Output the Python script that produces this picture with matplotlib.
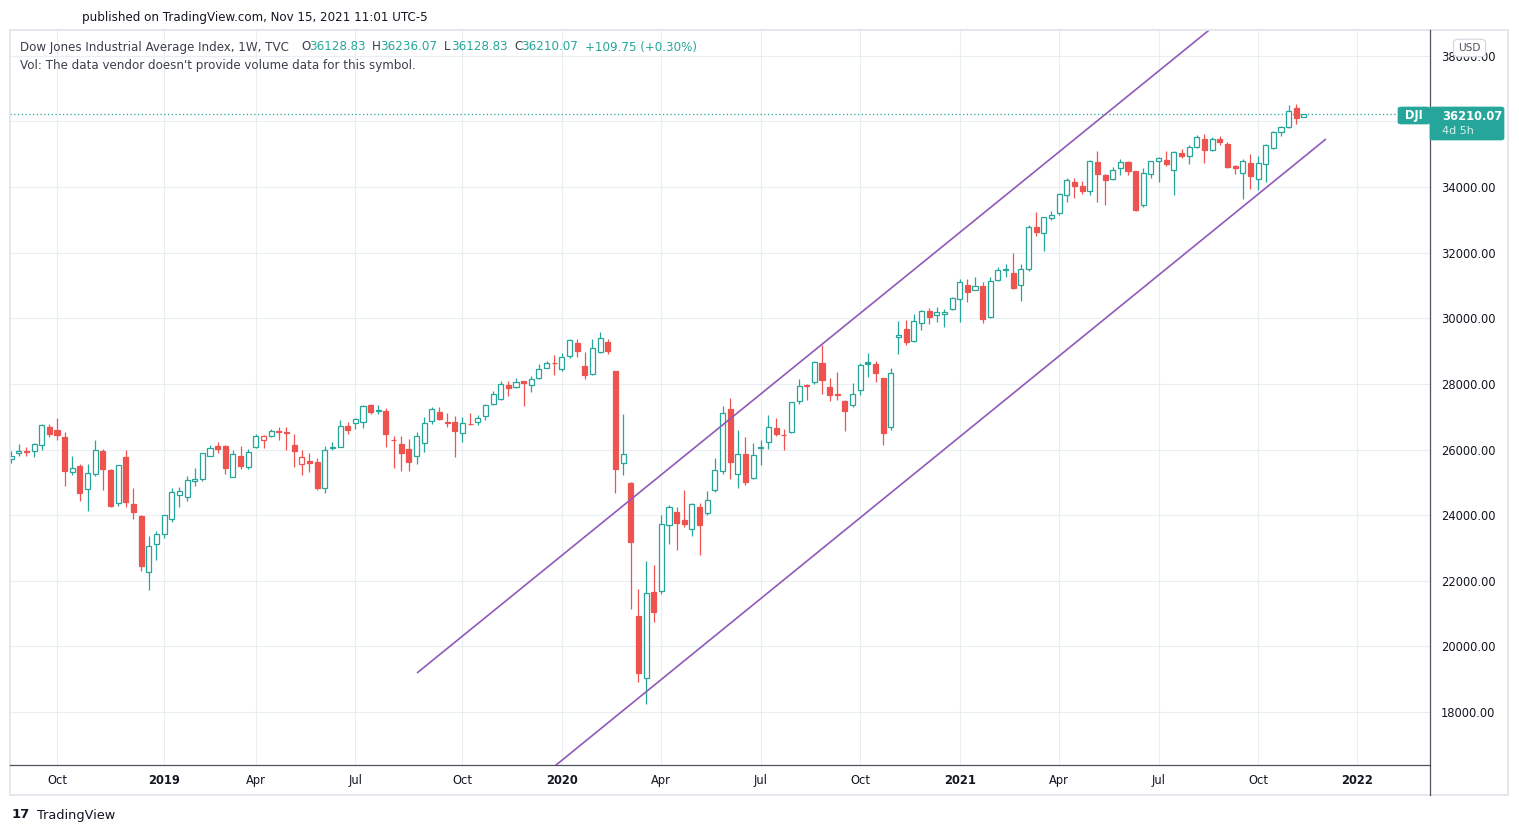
import numpy as np
import pandas as pd
import matplotlib
matplotlib.use("Agg")
import matplotlib.pyplot as plt
from matplotlib.patches import Rectangle, FancyBboxPatch
from matplotlib.lines import Line2D

# ---------------- data (weekly DJI, bars start Monday 2018-08-20) ----------------
first_week = "2018-08-20"
opens = [25700, 25880, 25950, 25960, 26130, 26690, 26590, 26390, 25310, 25500,
         24790, 25245, 25958, 25378, 24360, 25775, 24340, 23976, 22280, 23130,
         23436, 23875, 24600, 24560, 25030, 25110, 25815, 26110, 26110, 25170,
         25800, 25460, 26080, 26290, 26410, 26560, 26540, 26140, 25550, 25650,
         25620, 24820, 26050, 26090, 26720, 26810, 26840, 27360, 27170, 27180,
         26300, 26170, 26020, 25800, 26190, 26860, 27140, 26835, 26835, 26500,
         26780, 26840, 27020, 27380, 27540, 27960, 27900, 28080, 27960, 28170,
         28480, 28650, 28450, 28840, 29240, 28540, 28300, 28970, 29270, 28400,
         25580, 24980, 20930, 19040, 21650, 21690, 23690, 24090, 23850, 23570,
         24240, 24050, 24760, 25340, 27240, 25240, 25850, 25120, 26040, 26220,
         26650, 26440, 26530, 27470, 27970, 28050, 28630, 27900, 27690, 27480,
         27350, 27800, 28670, 28610, 28170, 26680, 29420, 29680, 29310, 29850,
         30230, 30090, 30130, 30280, 30600, 31020, 30860, 30990, 30030, 31160,
         31460, 31385, 31020, 31490, 32780, 32590, 33050, 33210, 33750, 34160,
         34040, 33880, 34770, 34370, 34240, 34590, 34770, 34490, 33460, 34400,
         34800, 34830, 34520, 35040, 34950, 35220, 35470, 35130, 35470, 35320,
         34650, 34430, 34740, 34240, 34700, 35180, 35680, 35830, 36420, 36128.83]
highs = [25950, 26170, 26080, 26210, 26770, 26770, 26951, 26530, 25800, 25560,
         25560, 26280, 26020, 25400, 25540, 25980, 24830, 24000, 23370, 23520,
         24000, 24820, 24870, 25180, 25440, 25900, 26150, 26230, 26150, 26000,
         26110, 26010, 26470, 26430, 26620, 26700, 26700, 26480, 25970, 25900,
         25740, 26110, 26230, 26907, 26850, 26970, 27360, 27400, 27360, 27280,
         26420, 26420, 26320, 26520, 26980, 27300, 27290, 27100, 27020, 27000,
         27100, 27050, 27400, 27780, 28090, 28090, 28170, 28100, 28230, 28600,
         28700, 28870, 28950, 29370, 29370, 28960, 29370, 29570, 29370, 28400,
         27080, 25000, 21760, 22600, 22480, 24010, 24300, 24240, 24770, 24370,
         24370, 24750, 25740, 27330, 27580, 26600, 26370, 26200, 26290, 27050,
         26970, 26620, 27460, 28140, 28000, 28710, 29200, 28170, 28360, 27500,
         28020, 28650, 28950, 28690, 28180, 28480, 29920, 29950, 30120, 30240,
         30320, 30330, 30280, 30660, 31190, 31190, 31270, 31110, 31250, 31550,
         31650, 32000, 31650, 32850, 33230, 33100, 33260, 33830, 34260, 34260,
         34170, 34830, 35090, 34400, 34620, 34850, 34800, 34500, 34580, 34800,
         34900, 35100, 35090, 35170, 35290, 35600, 35630, 35510, 35540, 35370,
         34680, 34860, 35000, 34940, 35300, 35720, 35860, 36490, 36540, 36236.07]
lows = [25600, 25790, 25800, 25760, 26000, 26370, 26290, 24899, 25226, 24440,
        24140, 25200, 24770, 24240, 24280, 24260, 23890, 22300, 21720, 22630,
        23315, 23780, 24260, 24440, 24890, 25030, 25800, 25880, 25240, 25170,
        25420, 25400, 26050, 26060, 26370, 26300, 25990, 25480, 25230, 25320,
        24770, 24680, 25980, 26070, 26480, 26620, 26650, 27070, 27070, 26090,
        25450, 25360, 25330, 25560, 25930, 26770, 26900, 26680, 25760, 26240,
        26740, 26740, 26900, 27350, 27500, 27620, 27880, 27340, 27760, 28150,
        28470, 28270, 28400, 28800, 28830, 28150, 28280, 28940, 28900, 24680,
        25220, 21150, 18920, 18244, 20750, 21600, 23110, 22940, 23650, 23370,
        22790, 24000, 24700, 25250, 25100, 24840, 24920, 25100, 25540, 26010,
        26400, 26000, 26500, 27400, 27500, 28000, 27680, 27470, 27500, 26550,
        27300, 27650, 28220, 28050, 26140, 26600, 28900, 29200, 29280, 29630,
        29810, 29890, 29720, 30250, 29880, 30500, 30850, 29860, 30000, 31150,
        31260, 30880, 30540, 31450, 32500, 32060, 32980, 33150, 33550, 33650,
        33800, 33750, 33550, 33450, 34200, 34380, 34380, 33270, 33400, 34270,
        34160, 34650, 33750, 34870, 34690, 35200, 34720, 35100, 35280, 34570,
        34410, 33640, 33950, 33900, 34150, 35150, 35560, 35790, 35930, 36128.83]
closes = [25790, 25965, 25916, 26154, 26743, 26458, 26447, 25340, 25444, 24688,
          25270, 25989, 25413, 24286, 25538, 24389, 24100, 22445, 23062, 23433,
          23996, 24706, 24737, 25064, 25106, 25883, 26031, 26026, 25450, 25848,
          25502, 25929, 26425, 26412, 26559, 26543, 26505, 25942, 25764, 25585,
          24815, 25984, 26090, 26719, 26600, 26922, 27332, 27154, 27192, 26485,
          26287, 25886, 25628, 26403, 26797, 27220, 26935, 26820, 26573, 26817,
          26770, 26958, 27347, 27681, 28005, 27876, 28051, 28015, 28135, 28455,
          28645, 28634, 28823, 29348, 28990, 28256, 29102, 29398, 28992, 25409,
          25865, 23186, 19174, 21637, 21053, 23719, 24242, 23775, 23724, 24331,
          23685, 24465, 25383, 27111, 25606, 25871, 25016, 25827, 26075, 26672,
          26470, 26428, 27433, 27931, 27930, 28654, 28133, 27666, 27657, 27174,
          27683, 28587, 28606, 28336, 26502, 28323, 29480, 29263, 29910, 30218,
          30046, 30179, 30200, 30606, 31098, 30814, 30997, 29983, 31148, 31458,
          31494, 30932, 31496, 32779, 32628, 33073, 33153, 33801, 34200, 34043,
          33875, 34778, 34382, 34208, 34529, 34756, 34480, 33290, 34433, 34786,
          34870, 34688, 35061, 34935, 35208, 35515, 35120, 35455, 35369, 34607,
          34584, 34798, 34326, 34746, 35295, 35677, 35820, 36328, 36100.32, 36210.07]

price_ticks = [18000, 20000, 22000, 24000, 26000, 28000, 30000, 32000, 34000, 36000, 38000]

# channel drawing anchors (bar index, price)
upper_x = [53.06, 160.5]
upper_y = [19189, 39520]
lower_x = [69.0, 171.88]
lower_y = [15960, 35463]

UP = "#26a69a"
DOWN = "#ef5350"
TXT = "#131722"
GRID = "#e9eef3"
CHAN = "#9158b8"

W, H = 1519, 835
fig = plt.figure(figsize=(W / 100, H / 100), dpi=100)
fig.patch.set_facecolor("white")

def fx(x):
    return x / W

def fy(y):
    return 1 - y / H

# plot area: x 10..1430, y 30..765
ax = fig.add_axes([fx(10), fy(765), fx(1430) - fx(10), fy(30) - fy(765)])
ax.set_facecolor("white")

n = len(closes)
bw = 0.66
for i in range(n):
    o, h, l, c = opens[i], highs[i], lows[i], closes[i]
    prev = closes[i - 1] if i > 0 else o
    col = UP if c >= prev else DOWN
    hollow = c >= o
    ax.vlines(i, l, h, color=col, lw=0.9, zorder=3)
    bottom = min(o, c)
    height = max(abs(c - o), 8)
    ax.add_patch(Rectangle((i - bw / 2, bottom), bw, height,
                           facecolor="white" if hollow else col,
                           edgecolor=col, lw=0.9, zorder=4))

# channel lines
ax.plot(upper_x, upper_y, color=CHAN, lw=1.2, zorder=5, solid_capstyle="butt")
ax.plot(lower_x, lower_y, color=CHAN, lw=1.2, zorder=5, solid_capstyle="butt")

# last price dotted line
ax.axhline(closes[-1], color=UP, lw=0.9, linestyle=(0, (1, 2)), zorder=2)

# x ticks: first bar of Jan/Apr/Jul/Oct
dates = pd.date_range(first_week, periods=n + 16, freq="W-MON")
xt, xl = [], []
for i in range(1, len(dates)):
    d, p = dates[i], dates[i - 1]
    if d.month != p.month and d.month in (1, 4, 7, 10):
        xt.append(i)
        xl.append(str(d.year) if d.month == 1 else d.strftime("%b"))
ax.set_xticks(xt)
ax.set_xticklabels(xl)
for lab in ax.get_xticklabels():
    lab.set_fontsize(8.3)
    lab.set_color(TXT)
    if lab.get_text().isdigit():
        lab.set_fontweight("bold")
ax.tick_params(axis="x", length=0, pad=6.5)

ax.yaxis.tick_right()
ax.set_yticks(price_ticks)
# 36000 label is hidden behind the last-price label in the reference
ax.set_yticklabels(["" if v == 36000 else f"{v:.2f}" for v in price_ticks])
ax.tick_params(axis="y", length=0, pad=8, labelsize=8.3, labelcolor=TXT)

# axes limits (after ticks so they are not expanded)
ax.set_xlim(-0.144, 185.48)
ax.set_ylim(16385, 38785)

ax.grid(True, color=GRID, lw=0.8, zorder=0)
ax.set_axisbelow(True)
for s in ax.spines.values():
    s.set_visible(False)

# frame lines
fig.add_artist(Rectangle((fx(10), fy(795)), fx(1508) - fx(10), fy(30) - fy(795),
                         transform=fig.transFigure, fill=False, edgecolor="#e0e3eb", lw=1.2))
fig.add_artist(Line2D([fx(10), fx(1430)], [fy(765), fy(765)], color="#50535e", lw=0.9))
fig.add_artist(Line2D([fx(1430), fx(1430)], [fy(30), fy(795)], color="#50535e", lw=0.9))

# USD badge
fig.add_artist(FancyBboxPatch((fx(1455), fy(56)), fx(1484) - fx(1455), fy(40) - fy(56),
                              boxstyle="round,pad=0.001,rounding_size=0.004",
                              transform=fig.transFigure, facecolor="white",
                              edgecolor="#d1d4dc", lw=0.8, zorder=10))
fig.text(fx(1469.5), fy(48), "USD", ha="center", va="center", fontsize=7.6, color="#50535e", zorder=11)

# price label
fig.add_artist(FancyBboxPatch((fx(1398), fy(124)), fx(1430) - fx(1398), fy(107) - fy(124),
                              boxstyle="round,pad=0,rounding_size=0.002",
                              transform=fig.transFigure, facecolor=UP, edgecolor=UP, lw=0.5, zorder=10))
fig.add_artist(FancyBboxPatch((fx(1430), fy(140)), fx(1504) - fx(1430), fy(107) - fy(140),
                              boxstyle="round,pad=0,rounding_size=0.002",
                              transform=fig.transFigure, facecolor=UP, edgecolor=UP, lw=0.5, zorder=10))
fig.text(fx(1405), fy(116), "DJI", ha="left", va="center", fontsize=8.3, color="white",
         fontweight="bold", zorder=11)
fig.text(fx(1442), fy(116), f"{closes[-1]:.2f}", ha="left", va="center", fontsize=8.3,
         color="white", fontweight="bold", zorder=11)
fig.text(fx(1442), fy(131.5), "4d 5h", ha="left", va="center", fontsize=8.0, color="#d7f0ed", zorder=11)

# texts
fig.text(fx(82), fy(17), "published on TradingView.com, Nov 15, 2021 11:01 UTC-5",
         ha="left", va="center", fontsize=8.6, color=TXT)
fig.text(fx(20), fy(47), "Dow Jones Industrial Average Index, 1W, TVC", ha="left", va="center",
         fontsize=8.6, color="#3b3f4a")
chg = closes[-1] - closes[-2]
hdr = [(301, "O", "#3b3f4a"), (309, f"{opens[-1]:.2f}", UP),
       (372, "H", "#3b3f4a"), (380, f"{highs[-1]:.2f}", UP),
       (444, "L", "#3b3f4a"), (451, f"{lows[-1]:.2f}", UP),
       (514, "C", "#3b3f4a"), (521, f"{closes[-1]:.2f}", UP),
       (585, f"+{chg:.2f} (+{chg / closes[-2] * 100:.2f}%)", UP)]
for x, t, c in hdr:
    fig.text(fx(x), fy(47), t, ha="left", va="center", fontsize=8.6, color=c)
fig.text(fx(20), fy(66), "Vol: The data vendor doesn't provide volume data for this symbol.",
         ha="left", va="center", fontsize=8.6, color="#3b3f4a")

fig.text(fx(12), fy(815), "17", ha="left", va="center", fontsize=9.5, fontweight="heavy", color=TXT)
fig.text(fx(37), fy(815), "TradingView", ha="left", va="center", fontsize=9.3, color=TXT)

fig.savefig("out.png", dpi=100, facecolor="white")
